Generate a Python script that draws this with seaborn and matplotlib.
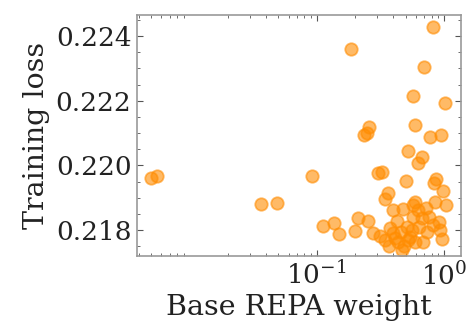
import numpy as np
import pandas as pd
import matplotlib
matplotlib.use("Agg")
import matplotlib.pyplot as plt
import seaborn as sns

# Data
repa_weight = [
    0.00497, 0.00553, 0.0363, 0.0485, 0.0918, 0.111, 0.1355, 0.1505, 0.200, 0.211,
    0.254, 0.185, 0.824, 0.693, 0.566, 1.01, 0.595, 0.259, 0.247, 0.235,
    0.776, 0.947, 0.521, 0.672, 0.630, 0.303, 0.326, 0.503, 0.873, 0.832,
    0.987, 0.360, 0.342, 0.850, 1.037, 0.592, 0.571, 0.400, 0.479, 0.716,
    0.574, 0.672, 0.769, 0.919, 0.425, 0.278, 0.313, 0.368, 0.639, 0.731,
    0.930, 0.959, 0.509, 0.458, 0.400, 0.541, 0.438, 0.485, 0.465, 0.592,
    0.688, 0.412, 0.521, 0.344, 0.376, 0.561, 0.625, 0.820,
]
training_loss = [
    0.21960, 0.21967, 0.21880, 0.21883, 0.21966, 0.21814, 0.21821, 0.21788, 0.21796, 0.21837,
    0.21828, 0.22359, 0.22429, 0.22305, 0.22215, 0.22193, 0.22126, 0.22118, 0.22099, 0.22093,
    0.22087, 0.22093, 0.22044, 0.22025, 0.22008, 0.21976, 0.21980, 0.21952, 0.21959, 0.21947,
    0.21922, 0.21916, 0.21895, 0.21886, 0.21879, 0.21888, 0.21877, 0.21861, 0.21864, 0.21867,
    0.21841, 0.21837, 0.21840, 0.21826, 0.21827, 0.21792, 0.21781, 0.21750, 0.21810, 0.21795,
    0.21799, 0.21773, 0.21810, 0.21795, 0.21790, 0.21779, 0.21764, 0.21752, 0.21738, 0.21762,
    0.21762, 0.21775, 0.21769, 0.21769, 0.21806, 0.21800, 0.21862, 0.21816,
]
x_ticks = [0.1, 1.0]
y_ticks = [0.218, 0.220, 0.222, 0.224]
y_tick_labels = ["0.218", "0.220", "0.222", "0.224"]

df = pd.DataFrame({"Base REPA weight": repa_weight, "Training loss": training_loss})

sns.set_style("white")
plt.rcParams["font.family"] = ["DejaVu Serif"]
plt.rcParams["mathtext.fontset"] = "dejavuserif"

fig = plt.figure(figsize=(4.72, 3.25), dpi=100)
ax = fig.add_axes([137 / 472, 1 - 256 / 325, (461 - 137) / 472, (256 - 15) / 325])

sns.scatterplot(data=df, x="Base REPA weight", y="Training loss", ax=ax,
                color="darkorange", alpha=0.6, s=80, edgecolor="darkorange",
                linewidth=1.3)
ax.set_xscale("log")
ax.set_xlim(0.00387, 1.36)
ax.set_ylim(0.21720, 0.22465)
ax.set_xticks(x_ticks)
ax.set_yticks(y_ticks)
ax.set_yticklabels(y_tick_labels)
ax.yaxis.set_minor_locator(matplotlib.ticker.MultipleLocator(0.0005))

ax.tick_params(which="both", direction="in", top=True, right=True,
               bottom=True, left=True, labelsize=19, color="#555555")
ax.tick_params(which="major", length=4, width=0.8, pad=4)
ax.tick_params(which="minor", length=2, width=0.6)
for sp in ax.spines.values():
    sp.set_color("#999999")
    sp.set_linewidth(1.2)

ax.set_xlabel("Base REPA weight", fontsize=20.5, color="#222222", labelpad=3)
ax.set_ylabel("Training loss", fontsize=20.5, color="#222222", labelpad=4)
for lab in ax.get_xticklabels() + ax.get_yticklabels():
    lab.set_color("#222222")

fig.savefig("out.png", dpi=100)
